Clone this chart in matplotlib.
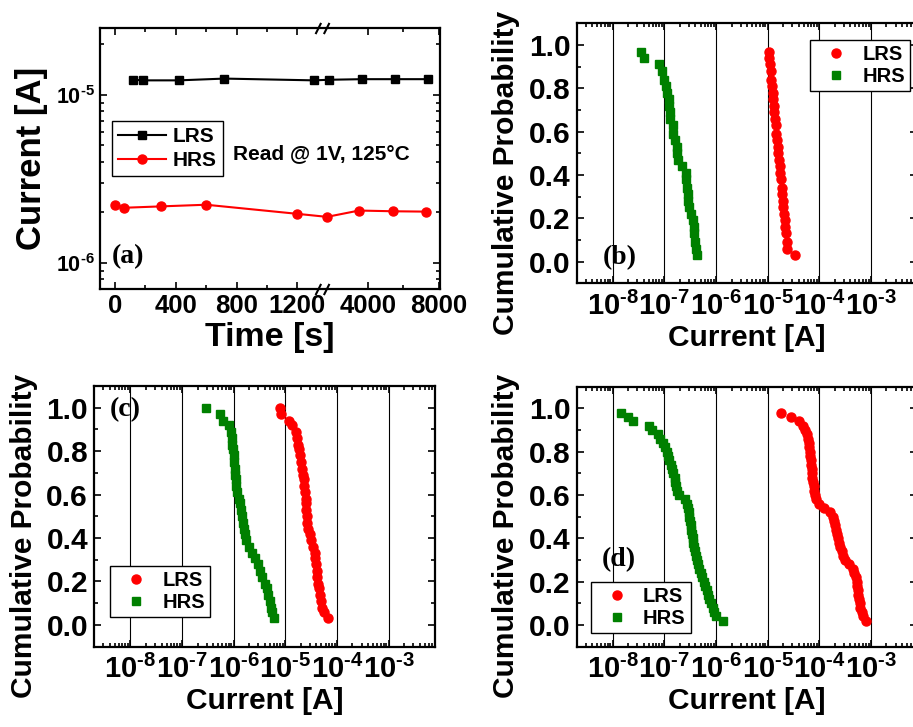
import numpy as np
import matplotlib
matplotlib.use('Agg')
import matplotlib.pyplot as plt
import matplotlib.transforms as mtransforms
from matplotlib.path import Path
from matplotlib.ticker import (FixedLocator, MultipleLocator, FuncFormatter,
                               LogLocator, NullFormatter)

plt.rcParams.update({
    'font.family': 'Liberation Sans',
    'font.weight': 'bold',
    'axes.labelweight': 'bold',
    'mathtext.fontset': 'custom',
    'mathtext.bf': 'Liberation Sans:bold',
    'mathtext.rm': 'Liberation Sans:bold',
})

# ---- (a) retention @ 1V, 125C ----
time_lrs = [120, 185, 420, 720, 1310, 1830, 3680, 5530, 7390]
cur_lrs = np.array([1.23, 1.22, 1.22, 1.25, 1.22, 1.23, 1.24, 1.24, 1.24]) * 1e-5
time_hrs = [0, 60, 300, 600, 1200, 1710, 3510, 5420, 7280]
cur_hrs = np.array([2.22, 2.13, 2.17, 2.22, 1.96, 1.88, 2.05, 2.03, 2.02]) * 1e-6

# ---- (b) ----
prob_b = [0.97, 0.94, 0.91, 0.88, 0.84, 0.81, 0.78, 0.75, 0.72, 0.69, 0.66,
          0.63, 0.59, 0.56, 0.53, 0.50, 0.47, 0.44, 0.41, 0.38, 0.34, 0.31,
          0.28, 0.25, 0.22, 0.19, 0.16, 0.13, 0.09, 0.06, 0.03]
lrs_b = np.array([1.05, 1.08, 1.11, 1.14, 1.18, 1.21, 1.25, 1.29, 1.33, 1.35,
                  1.39, 1.43, 1.47, 1.52, 1.56, 1.61, 1.66, 1.71, 1.76, 1.81,
                  1.87, 1.89, 1.95, 2.01, 2.07, 2.13, 2.20, 2.27, 2.33, 2.40,
                  3.38]) * 1e-5
hrs_b = np.array([0.355, 0.398, 0.776, 0.891, 1.00, 1.07, 1.12, 1.20, 1.21,
                  1.26, 1.29, 1.45, 1.48, 1.62, 1.78, 1.79, 1.82, 2.24, 2.57,
                  2.63, 2.69, 2.82, 2.88, 3.02, 3.24, 3.55, 3.72, 3.80, 3.98,
                  4.07, 4.27]) * 1e-7

# ---- (c) ----
prob_c = [1.00, 0.97, 0.94, 0.92, 0.89, 0.86, 0.83, 0.81, 0.78, 0.75, 0.72,
          0.69, 0.67, 0.64, 0.61, 0.58, 0.56, 0.53, 0.50, 0.47, 0.44, 0.42,
          0.39, 0.36, 0.33, 0.31, 0.28, 0.25, 0.22, 0.19, 0.17, 0.14, 0.11,
          0.08, 0.06, 0.03]
lrs_c = np.array([0.776, 0.812, 1.19, 1.35, 1.58, 1.71, 1.79, 1.87, 1.92, 1.98,
                  2.07, 2.16, 2.26, 2.33, 2.40, 2.48, 2.51, 2.55, 2.59, 2.67,
                  2.79, 2.96, 3.19, 3.48, 3.70, 3.81, 3.93, 4.04, 4.16, 4.35,
                  4.55, 4.75, 4.98, 5.20, 5.52, 6.79]) * 1e-5
hrs_c = np.array([0.296, 0.536, 0.612, 0.812, 0.875, 0.914, 0.942, 0.971, 1.00,
                  1.015, 1.045, 1.06, 1.09, 1.13, 1.18, 1.25, 1.31, 1.37, 1.43,
                  1.49, 1.56, 1.63, 1.73, 1.95, 2.26, 2.55, 2.96, 3.28, 3.59,
                  4.04, 4.42, 4.69, 4.98, 5.28, 5.60, 5.94]) * 1e-6

# ---- (d) ----
prob_d = [0.98, 0.96, 0.94, 0.92, 0.90, 0.88, 0.86, 0.84, 0.82, 0.80, 0.78,
          0.76, 0.74, 0.72, 0.70, 0.68, 0.66, 0.64, 0.62, 0.60, 0.58, 0.56,
          0.54, 0.52, 0.50, 0.48, 0.46, 0.44, 0.42, 0.40, 0.38, 0.36, 0.34,
          0.32, 0.30, 0.28, 0.26, 0.24, 0.22, 0.20, 0.18, 0.16, 0.14, 0.12,
          0.10, 0.08, 0.06, 0.04, 0.02]
lrs_d = np.array([1.81, 2.83, 3.98, 4.76, 5.36, 5.77, 6.04, 6.22, 6.40, 6.50,
                  6.59, 6.79, 6.90, 7.11, 7.22, 7.32, 7.54, 7.76, 8.00, 8.24,
                  8.61, 10.0, 12.5, 16.3, 18.1, 19.2, 20.4, 21.3, 22.3, 23.3,
                  24.4, 25.5, 27.0, 28.3, 31.4, 38.1, 44.2, 47.6, 50.5, 52.8,
                  54.4, 56.0, 56.9, 58.6, 60.4, 62.2, 66.0, 71.1, 80.0]) * 1e-5
hrs_d = np.array([0.145, 0.195, 0.251, 0.513, 0.577, 0.743, 0.824, 0.929, 1.01,
                  1.11, 1.18, 1.25, 1.33, 1.41, 1.49, 1.58, 1.63, 1.68, 1.76,
                  1.95, 2.55, 2.79, 2.87, 2.96, 3.05, 3.14, 3.24, 3.33, 3.38,
                  3.53, 3.64, 3.81, 3.98, 4.10, 4.29, 4.49, 4.76, 5.05, 5.36,
                  5.77, 6.22, 6.60, 7.00, 7.43, 8.00, 8.61, 9.29, 10.0,
                  13.5]) * 1e-7

RED = '#ff0000'
GREEN = '#008000'

fig = plt.figure(figsize=(9.13, 7.27), dpi=100)


def pow10(v, pos):
    e = int(round(np.log10(v)))
    sign = r'\text{-}' if e < 0 else ''
    return r'$\mathbf{10^{%s%d}}$' % (sign, abs(e))


def style_ticks(ax, size):
    ax.tick_params(which='both', direction='in', top=True, right=True,
                   width=1.2, labelsize=size)
    ax.tick_params(which='major', length=5)
    ax.tick_params(which='minor', length=3)
    for s in ax.spines.values():
        s.set_linewidth(1.6)


def legend(ax, anchor, size, hl=2.3, htp=0.35, ls=0.25, bp=0.3):
    leg = ax.legend(loc='upper left', bbox_to_anchor=anchor, borderaxespad=0,
                    fancybox=False, edgecolor='black', framealpha=1,
                    borderpad=bp, handlelength=hl, handletextpad=htp,
                    labelspacing=ls, prop=dict(weight='bold', size=size))
    leg.get_frame().set_linewidth(1.0)
    return leg


# ---------------- panel (a) ----------------
ax = fig.add_axes([0.1095, 0.6025, 0.3724, 0.359])
brk_in = [-1e5, 1360, 1410, 1e5]
brk_out = [-1e5, 1360, 1361, 1361 + (1e5 - 1410) * 0.1173]


def fwd(t):
    return np.interp(t, brk_in, brk_out)


def inv(u):
    return np.interp(u, brk_out, brk_in)


ax.set_xscale('function', functions=(fwd, inv))
ax.set_yscale('log')
ax.plot(time_lrs, cur_lrs, '-s', color='black', lw=1.5, ms=6, label='LRS')
ax.plot(time_hrs, cur_hrs, '-o', color=RED, lw=1.5, ms=6.5, label='HRS')
ax.set_xlim(-100, 8060)
ax.set_ylim(7e-7, 2.5e-5)
ax.xaxis.set_major_locator(FixedLocator([0, 400, 800, 1200, 4000, 8000]))
ax.xaxis.set_minor_locator(FixedLocator([200, 600, 1000, 6000]))
ax.yaxis.set_major_formatter(FuncFormatter(pow10))
style_ticks(ax, 18.5)
ax.tick_params(axis='y', labelsize=15.5)
ax.set_xlabel('Time [s]', fontsize=24.5, labelpad=3)
ax.set_ylabel('Current [A]', fontsize=25, labelpad=6)
legend(ax, (0.034, 0.645), 15)
ax.text(0.391, 0.517, 'Read @ 1V, 125\u00b0C', transform=ax.transAxes,
        ha='left', va='center', fontsize=15, fontweight='bold')
ax.text(0.034, 0.123, '(a)', transform=ax.transAxes, ha='left', va='center',
        fontsize=20, fontweight='bold', family='Liberation Serif')
# axis break marks
slash = Path([(-1, -0.8), (-0.2, 0.8), (0.2, -0.8), (1, 0.8)],
             [Path.MOVETO, Path.LINETO, Path.MOVETO, Path.LINETO])
trans = mtransforms.blended_transform_factory(ax.transData, ax.transAxes)
ax.plot([1385, 1385], [0, 1], transform=trans, ls='none', marker=slash,
        ms=10, mec='black', mew=1.5, clip_on=False, zorder=5)


# ---------------- panels (b)-(d) ----------------
def dist_panel(rect, lrs, p_lrs, hrs, p_hrs, anchor, tag, tag_xy, ylab_y):
    ax = fig.add_axes(rect)
    ax.plot(lrs, p_lrs, 'o', color=RED, ms=6.5, label='LRS', zorder=3)
    ax.plot(hrs, p_hrs, 's', color=GREEN, ms=5.5, label='HRS', zorder=3)
    ax.set_xscale('log')
    ax.set_xlim(10 ** -8.7, 10 ** -2.1)
    ax.set_ylim(-0.1, 1.1)
    ax.xaxis.set_major_locator(LogLocator(base=10, numticks=20))
    ax.xaxis.set_minor_locator(LogLocator(base=10, subs=np.arange(2, 10),
                                          numticks=20))
    ax.xaxis.set_major_formatter(FuncFormatter(pow10))
    ax.xaxis.set_minor_formatter(NullFormatter())
    ax.yaxis.set_major_locator(MultipleLocator(0.2))
    ax.yaxis.set_minor_locator(MultipleLocator(0.1))
    ax.yaxis.set_major_formatter(FuncFormatter(
        lambda v, pos: '%.1f' % (round(v, 1) + 0.0)))
    ax.grid(axis='x', which='major', color='black', lw=0.8)
    ax.set_axisbelow(True)
    style_ticks(ax, 21.5)
    ax.tick_params(axis='x', pad=6, labelsize=21)
    ax.tick_params(axis='y', pad=4.5)
    ax.set_xlabel('Current [A]', fontsize=21.5, labelpad=2)
    ax.set_ylabel('Cumulative Probability', fontsize=21.5)
    ax.yaxis.set_label_coords(-0.165, ylab_y)
    legend(ax, anchor, 14.5, hl=2.1, htp=0.25, ls=0.15, bp=0.25)
    ax.text(tag_xy[0], tag_xy[1], tag, transform=ax.transAxes, ha='left',
            va='center', fontsize=20, fontweight='bold',
            family='Liberation Serif')
    return ax


dist_panel([0.6316, 0.6103, 0.3732, 0.3576], lrs_b, prob_b, hrs_b, prob_b,
           (0.685, 0.936), '(b)', (0.077, 0.097), 0.424)
dist_panel([0.1033, 0.1105, 0.3732, 0.3586], lrs_c, prob_c, hrs_c, prob_c,
           (0.046, 0.311), '(c)', (0.046, 0.908), 0.425)
dist_panel([0.6316, 0.1105, 0.3732, 0.3576], lrs_d, prob_d, hrs_d, prob_d,
           (0.041, 0.249), '(d)', (0.074, 0.333), 0.426)

fig.savefig('out.png', dpi=100)
